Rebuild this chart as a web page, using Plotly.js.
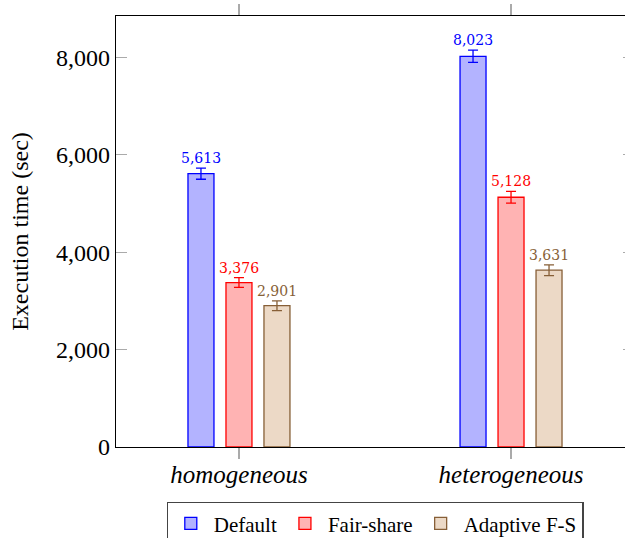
<!DOCTYPE html>
<html>
<head>
<meta charset="utf-8">
<script src="https://cdn.plot.ly/plotly-3.0.1.min.js"></script>
<style>
  html, body { margin: 0; padding: 0; overflow: hidden; background: #fff; }
  #chart { width: 640px; height: 538px; }
</style>
</head>
<body>
<div id="chart"></div>
<script>
// ---- data ----
const categories = ['homogeneous', 'heterogeneous'];
const seriesNames = ['Default', 'Fair-share', 'Adaptive F-S'];
const defaultVals = [5613, 8023];
const fairShareVals = [3376, 5128];
const adaptiveVals = [2901, 3631];
const defaultErr = [115, 125];
const fairShareErr = [100, 120];
const adaptiveErr = [100, 110];
const yTickVals = [0, 2000, 4000, 6000, 8000];

// ---- styling ----
const lineColors = ['rgb(0,0,255)', 'rgb(255,0,0)', 'rgb(135,95,55)'];
const fillColors = ['rgb(179,179,255)', 'rgb(255,179,179)', 'rgb(236,217,198)'];
const serif = '"Liberation Serif", serif';
const bargap = 0.581, bargroupgap = 0.316;

const values = [defaultVals, fairShareVals, adaptiveVals];
const errs = [defaultErr, fairShareErr, adaptiveErr];

const traces = values.map((v, j) => ({
  type: 'bar',
  name: seriesNames[j],
  x: categories,
  y: v,
  marker: { color: fillColors[j], line: { color: lineColors[j], width: 1.3 } },
  error_y: { type: 'data', array: errs[j], visible: true, color: lineColors[j], thickness: 1.3, width: 5 },
  hoverinfo: 'skip'
}));

const slot = (1 - bargap) / values.length;
const annotations = [];
values.forEach((v, j) => {
  v.forEach((val, i) => {
    annotations.push({
      x: i + (j - (values.length - 1) / 2) * slot,
      y: val + errs[j][i],
      xref: 'x', yref: 'y',
      text: val.toLocaleString('en-US'),
      showarrow: false,
      yanchor: 'bottom',
      yshift: 0,
      font: { family: '"DejaVu Serif", serif', size: 14, color: lineColors[j] }
    });
  });
});

const layout = {
  width: 640, height: 538,
  margin: { l: 116, r: 6, t: 16, b: 91 },
  paper_bgcolor: '#fff', plot_bgcolor: '#fff',
  barmode: 'group',
  bargap: bargap, bargroupgap: bargroupgap,
  showlegend: true,
  legend: {
    orientation: 'h', x: 0.5, xanchor: 'center',
    yref: 'container', y: 1 - 502 / 538, yanchor: 'top',
    bordercolor: '#444', borderwidth: 1.3,
    font: { family: serif, size: 21, color: '#000' },
    itemwidth: 36, traceorder: 'normal'
  },
  xaxis: {
    type: 'category',
    range: [-0.452, 1.452],
    showline: true, linecolor: '#000', linewidth: 1.3, mirror: 'ticks',
    ticks: 'outside', ticklen: 11, tickwidth: 1.3, tickcolor: '#aaa',
    ticklabelstandoff: -6,
    showgrid: false, zeroline: false,
    tickfont: { family: serif, size: 25, color: '#000', style: 'italic' }
  },
  yaxis: {
    range: [0, 8850],
    tickvals: yTickVals,
    tickformat: ',d',
    showline: true, linecolor: '#000', linewidth: 1.3, mirror: 'ticks',
    ticks: 'inside', ticklen: 11, tickwidth: 1.3, tickcolor: '#aaa',
    showgrid: false, zeroline: false,
    tickfont: { family: serif, size: 24, color: '#000' },
    title: { text: 'Execution time (sec)', font: { family: serif, size: 24, color: '#000' }, standoff: 20 }
  },
  annotations: annotations
};

Plotly.newPlot('chart', traces, layout, { displayModeBar: false, staticPlot: true });
</script>
</body>
</html>
